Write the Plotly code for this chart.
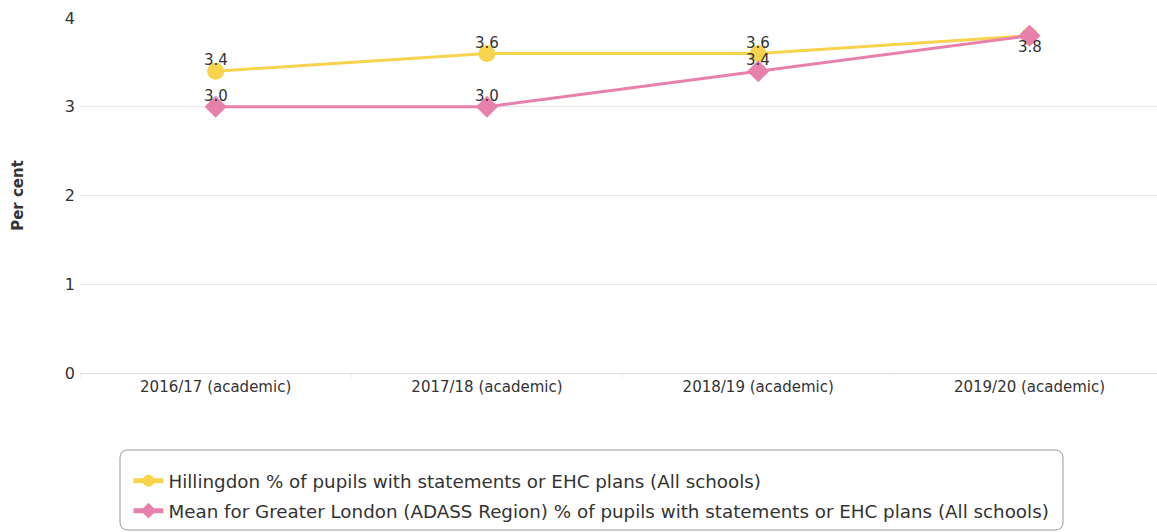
import plotly.graph_objects as go
import re

categories = ["2016/17 (academic)", "2017/18 (academic)", "2018/19 (academic)", "2019/20 (academic)"]
hillingdon = [3.4, 3.6, 3.6, 3.8]
london = [3.0, 3.0, 3.4, 3.8]
hill_name = "Hillingdon % of pupils with statements or EHC plans (All schools)"
lon_name = "Mean for Greater London (ADASS Region) % of pupils with statements or EHC plans (All schools)"
y_ticks = [0, 1, 2, 3, 4]
# label placement per point: +1 above, -1 below, 0 hidden
hill_label_side = [1, 1, 1, 0]
lon_label_side = [1, 1, 1, -1]

YELLOW = "#F8D34E"
PINK = "#E880AC"
FONT = "DejaVu Sans"
TXT = "#333333"

fig = go.Figure()
fig.add_trace(go.Scatter(
    x=categories, y=hillingdon, name=hill_name, mode="lines+markers",
    legendgroup="g1",
    line=dict(color=YELLOW, width=3),
    marker=dict(symbol="circle", size=17, color=YELLOW),
))
fig.add_trace(go.Scatter(
    x=categories, y=london, name=lon_name, mode="lines+markers",
    legendgroup="g2",
    line=dict(color=PINK, width=3),
    marker=dict(symbol="diamond", size=17, color=PINK),
))

for vals, sides in ((hillingdon, hill_label_side), (london, lon_label_side)):
    for c, v, s in zip(categories, vals, sides):
        if s == 0:
            continue
        fig.add_annotation(x=c, y=v, text=f"{v:.1f}", showarrow=False,
                           yshift=11 * s, font=dict(family=FONT, size=15, color=TXT))

fig.update_layout(
    width=1157, height=532,
    margin=dict(l=80, r=0, t=18, b=159),
    paper_bgcolor="white", plot_bgcolor="white",
    font=dict(family=FONT, size=15, color=TXT),
    showlegend=True,
    legend=dict(
        x=0.045, y=-0.252, xanchor="left", yanchor="top",
        font=dict(family=FONT, size=18.3, color=TXT),
        bgcolor="rgba(0,0,0,0)", borderwidth=0,
        tracegroupgap=3, itemsizing="constant",
    ),
    xaxis=dict(
        type="category", range=[-0.5, 3.47],
        showgrid=False, showline=True, linecolor="#e0e0e0", linewidth=1,
        ticks="outside", tickson="boundaries", ticklen=4, tickcolor="#f0f0f0",
        tickfont=dict(family=FONT, size=15, color=TXT),
        fixedrange=True,
    ),
    yaxis=dict(
        range=[0, 4], tickvals=y_ticks, showgrid=True, gridcolor="#e6e6e6",
        zeroline=False, showline=False, ticks="", ticklabelstandoff=4,
        tickfont=dict(family=FONT, size=16, color=TXT),
        title=dict(text="<b>Per cent</b>", font=dict(family=FONT, size=15, color=TXT), standoff=37),
    ),
)

# Rounded legend frame (pixel geometry converted to paper coordinates)
x0, x1, y0, y1, r = 120, 1063, 450, 530, 8
path = (f"M {x0+r},{y0} L {x1-r},{y0} Q {x1},{y0} {x1},{y0+r} L {x1},{y1-r} Q {x1},{y1} {x1-r},{y1} "
        f"L {x0+r},{y1} Q {x0},{y1} {x0},{y1-r} L {x0},{y0+r} Q {x0},{y0} {x0+r},{y0} Z")
pl, pt, pw, ph = 80, 18, 1157 - 80, 532 - 18 - 159
def conv(m):
    xs, ys = float(m.group(1)), float(m.group(2))
    return f"{(xs-pl)/pw:.5f},{1-(ys-pt)/ph:.5f}"
ppath = re.sub(r"(-?[\d.]+),(-?[\d.]+)", conv, path)
fig.add_shape(type="path", path=ppath, xref="paper", yref="paper",
              line=dict(color="#999999", width=1), fillcolor="rgba(0,0,0,0)", layer="below")

fig.write_html("out.html")
